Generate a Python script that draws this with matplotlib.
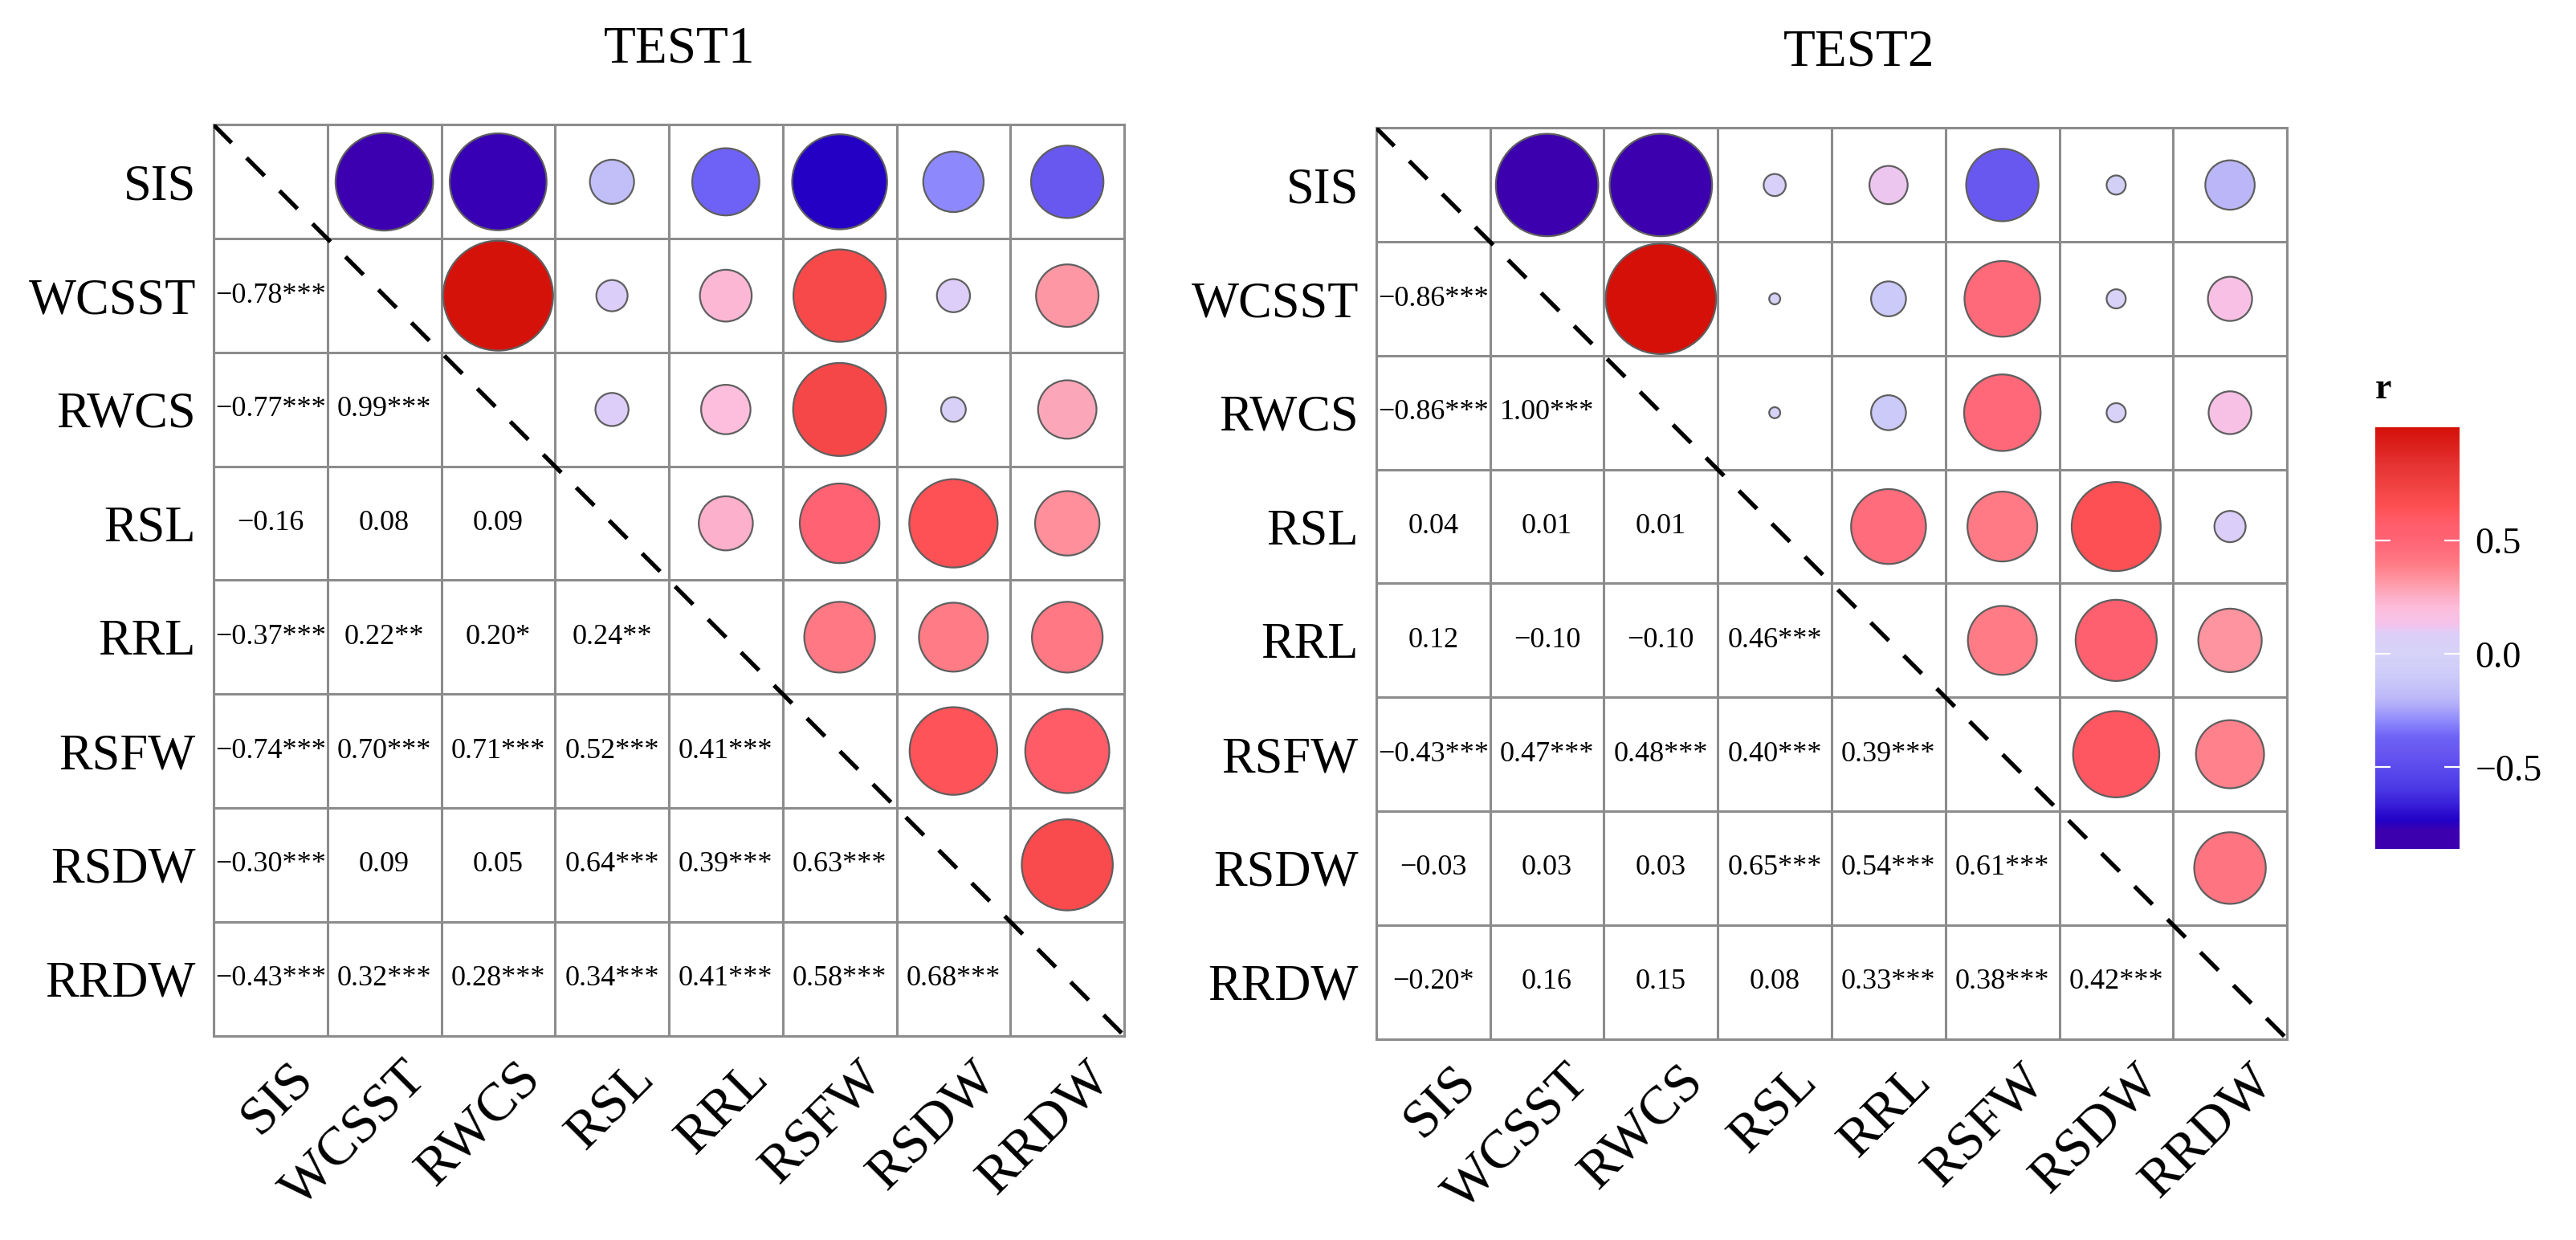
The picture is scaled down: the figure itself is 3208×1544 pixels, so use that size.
import numpy as np
import matplotlib
matplotlib.use("Agg")
import matplotlib.pyplot as plt
from matplotlib.patches import Circle
from matplotlib.collections import PatchCollection
from matplotlib.colors import LinearSegmentedColormap, Normalize
from matplotlib.transforms import ScaledTranslation

plt.rcParams['font.family'] = ['Liberation Serif', 'DejaVu Serif']

# variáveis (mesma ordem nas linhas e colunas)
variables = ["SIS", "WCSST", "RWCS", "RSL", "RRL", "RSFW", "RSDW", "RRDW"]

# triângulo inferior: linha i, colunas 0..i-1
test1_r = [
    [-0.78],
    [-0.77, 0.99],
    [-0.16, 0.08, 0.09],
    [-0.37, 0.22, 0.20, 0.24],
    [-0.74, 0.70, 0.71, 0.52, 0.41],
    [-0.30, 0.09, 0.05, 0.64, 0.39, 0.63],
    [-0.43, 0.32, 0.28, 0.34, 0.41, 0.58, 0.68],
]
test1_sig = [
    ["***"],
    ["***", "***"],
    ["", "", ""],
    ["***", "**", "*", "**"],
    ["***", "***", "***", "***", "***"],
    ["***", "", "", "***", "***", "***"],
    ["***", "***", "***", "***", "***", "***", "***"],
]

test2_r = [
    [-0.86],
    [-0.86, 1.00],
    [0.04, 0.01, 0.01],
    [0.12, -0.10, -0.10, 0.46],
    [-0.43, 0.47, 0.48, 0.40, 0.39],
    [-0.03, 0.03, 0.03, 0.65, 0.54, 0.61],
    [-0.20, 0.16, 0.15, 0.08, 0.33, 0.38, 0.42],
]
test2_sig = [
    ["***"],
    ["***", "***"],
    ["", "", ""],
    ["", "", "", "***"],
    ["***", "***", "***", "***", "***"],
    ["", "", "", "***", "***", "***"],
    ["*", "", "", "", "***", "***", "***"],
]

cbar_ticks = [-0.5, 0.0, 0.5]
cbar_ticklabels = ["\u22120.5", "0.0", "0.5"]

# paleta violeta -> azul -> lavanda -> rosa -> vermelho
all_vals = np.concatenate([np.concatenate(test1_r), np.concatenate(test2_r)])
vmin, vmax = all_vals.min(), all_vals.max()
nodes = [(-0.86, "#3c00ae"), (-0.78, "#3c00b0"), (-0.74, "#2200c6"),
         (-0.6, "#4a38e6"), (-0.43, "#6858f0"), (-0.37, "#6e62f6"),
         (-0.3, "#8c88fc"), (-0.2, "#bcb8f8"), (-0.1, "#cccaf8"),
         (0.0, "#d6d2f8"), (0.09, "#dccef8"), (0.13, "#f4c2ea"),
         (0.2, "#fcbedc"), (0.24, "#fcb0cc"), (0.28, "#fca6b8"),
         (0.33, "#ff94a0"), (0.4, "#ff7a84"), (0.46, "#ff6c7c"),
         (0.52, "#ff6272"), (0.6, "#ff5a66"), (0.66, "#fc4e50"),
         (0.72, "#f44646"), (0.85, "#e43030"), (1.0, "#d41008")]
cmap = LinearSegmentedColormap.from_list(
    "rcorr", [((v - vmin) / (vmax - vmin), c) for v, c in nodes])
norm = Normalize(vmin=vmin, vmax=vmax)

GRID = "#8c8c8c"


def full_matrix(lower):
    n = len(variables)
    m = np.eye(n)
    for i, row in enumerate(lower, start=1):
        for j, v in enumerate(row):
            m[i, j] = v
            m[j, i] = v
    return m


def draw_panel(ax, lower, sig, title, title_x):
    n = len(variables)
    mat = full_matrix(lower)

    # círculos no triângulo superior (área ~ |r|)
    patches, vals = [], []
    for i in range(n):
        for j in range(i + 1, n):
            r = mat[i, j]
            patches.append(Circle((j + 0.5, i + 0.5), 0.485 * np.sqrt(abs(r))))
            vals.append(r)
    coll = PatchCollection(patches, cmap=cmap, norm=norm,
                           edgecolor="#5f5f5f", linewidth=1.6, zorder=3)
    coll.set_array(np.array(vals))
    ax.add_collection(coll)

    # valores no triângulo inferior
    for i, row in enumerate(lower, start=1):
        for j, v in enumerate(row):
            txt = f"{v:.2f}".replace("-", "\u2212") + sig[i - 1][j]
            ax.text(j + 0.5, i + 0.5, txt, ha="center", va="center",
                    fontsize=26, color="black", zorder=4)

    # grade
    ax.hlines(np.arange(n + 1), 0, n, color=GRID, lw=2.2, zorder=1)
    ax.vlines(np.arange(n + 1), 0, n, color=GRID, lw=2.2, zorder=1)
    ax.plot([0, n], [0, n], color="black", lw=3.8, ls=(0, (6, 5)), zorder=5)

    ax.set_xlim(0, n)
    ax.set_ylim(n, 0)
    ax.set_aspect("equal")
    for s in ax.spines.values():
        s.set_color(GRID)
        s.set_linewidth(2.2)

    ax.set_xticks(np.arange(n) + 0.5)
    ax.set_yticks(np.arange(n) + 0.5)
    ax.set_yticklabels(variables, fontsize=45)
    ax.set_xticklabels(variables, fontsize=49, rotation=45, ha="right",
                       va="top", rotation_mode="anchor")
    ax.tick_params(length=0, pad=16)
    ax.tick_params(axis="x", pad=16)
    offset = ScaledTranslation(0.22, 0, ax.figure.dpi_scale_trans)
    for lab in ax.get_xticklabels():
        lab.set_transform(lab.get_transform() + offset)
    ax.set_title(title, fontsize=47, pad=56, x=title_x)
    return coll


fig = plt.figure(figsize=(32.08, 15.44), dpi=100)
ax1 = fig.add_axes([266 / 3208, 1 - 1290 / 1544, 1134 / 3208, 1135 / 1544])
ax2 = fig.add_axes([1714 / 3208, 1 - 1294 / 1544, 1134 / 3208, 1135 / 1544])
draw_panel(ax1, test1_r, test1_sig, "TEST1", 0.512)
coll = draw_panel(ax2, test2_r, test2_sig, "TEST2", 0.53)

cax = fig.add_axes([2958 / 3208, 1 - 1057 / 1544, 105 / 3208, 525 / 1544])
cb = fig.colorbar(coll, cax=cax, ticks=cbar_ticks)
cb.outline.set_visible(False)
cb.set_ticklabels(cbar_ticklabels)
cax.tick_params(which="both", direction="in", color="white", length=14,
                width=1.6, left=True, right=True, labelsize=33, pad=14)
cax.set_title("r", loc="left", fontsize=33, fontweight="bold", pad=26)

fig.savefig("out.png", dpi=100, facecolor="white")
